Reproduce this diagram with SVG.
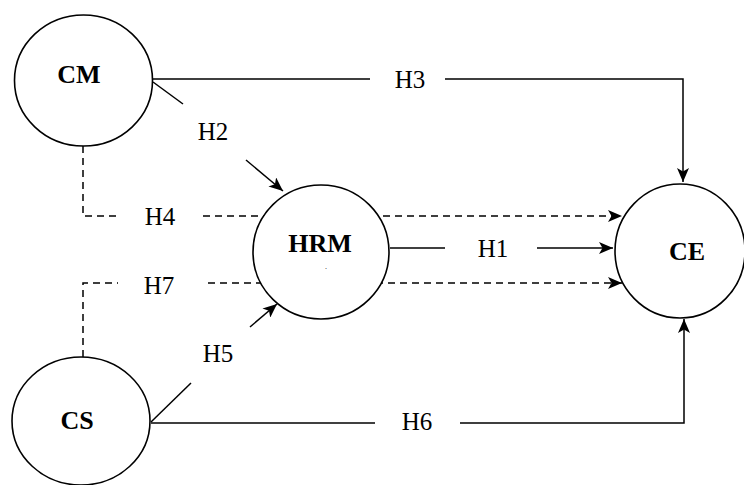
<svg xmlns="http://www.w3.org/2000/svg" width="744" height="485" viewBox="0 0 744 485">
<defs>
<marker id="arr" viewBox="0 0 14 12" markerWidth="14" markerHeight="12" refX="14" refY="6" orient="auto" markerUnits="userSpaceOnUse">
<path d="M0,0 L14,6 L0,12 L3.5,6 z" fill="#000"/>
</marker>
<style>
.n{fill:#fff;stroke:#000;stroke-width:1.6}
.l{fill:none;stroke:#000;stroke-width:1.5}
.d{fill:none;stroke:#000;stroke-width:1.5;stroke-dasharray:7 5}
.nt{font-family:"Liberation Serif","Times New Roman",serif;font-weight:bold;font-size:26px;text-anchor:middle}
.lt{font-family:"Liberation Serif","Times New Roman",serif;font-size:25px;text-anchor:middle}
</style>
</defs>
<rect width="744" height="485" fill="#fff"/>
<g id="connectors">
<path class="l" d="M153,79 H370 M445,79 H683 V182" marker-end="url(#arr)"/>
<path class="l" d="M153,82 L183,104"/>
<path class="l" d="M246,160 L283,191" marker-end="url(#arr)"/>
<path class="d" d="M83,146 V216 H120"/>
<path class="d" d="M203,216 H622" marker-end="url(#arr)"/>
<path class="l" d="M390,248 H445"/>
<path class="l" d="M537,248 H613" marker-end="url(#arr)"/>
<path class="d" d="M83,357 V283 H118"/>
<path class="d" d="M208,283 H622" marker-end="url(#arr)"/>
<path class="l" d="M151,422 L191,383"/>
<path class="l" d="M250,327 L277,304" marker-end="url(#arr)"/>
<path class="l" d="M151,423 H375"/>
<path class="l" d="M460,423 H684 V319" marker-end="url(#arr)"/>
<text class="lt" x="410" y="88">H3</text>
<text class="lt" x="213" y="140">H2</text>
<text class="lt" x="160" y="225">H4</text>
<text class="lt" x="493" y="257">H1</text>
<text class="lt" x="159" y="294">H7</text>
<text class="lt" x="218" y="362">H5</text>
<text class="lt" x="417" y="430">H6</text>
</g>
<g id="CM">
<ellipse class="n" cx="83.5" cy="80.5" rx="69" ry="65.5"/>
<text class="nt" x="79" y="83">CM</text>
</g>
<g id="HRM">
<ellipse class="n" cx="321" cy="252" rx="68" ry="67"/>
<text class="nt" x="320" y="252">HRM</text>
<text x="326" y="269" font-family="Liberation Serif,serif" font-size="8" text-anchor="middle">.</text>
</g>
<g id="CE">
<ellipse class="n" cx="680" cy="251" rx="65" ry="67"/>
<text class="nt" x="687" y="260">CE</text>
</g>
<g id="CS">
<ellipse class="n" cx="81" cy="421" rx="69" ry="64"/>
<text class="nt" x="77" y="429">CS</text>
</g>
</svg>
